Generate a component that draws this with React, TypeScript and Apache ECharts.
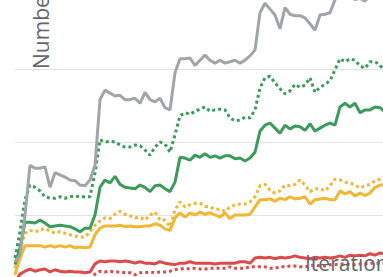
import React, { useEffect, useRef } from "react";
import * as echarts from "echarts";

// x index i ↔ iteration step; values in chart units (gridlines every 10)
const grayLine = [3.6, 4.5, 10.0, 16.8, 16.4, 16.4, 16.6, 13.8, 15.8, 15.5, 15.2, 14.8, 14.7, 14.1, 14.0, 14.8, 16.8, 25.8, 27.1, 26.7, 26.3, 26.4, 25.8, 25.8, 26.0, 25.3, 26.8, 25.8, 25.5, 26.0, 24.7, 24.4, 29.5, 31.4, 31.4, 31.5, 30.5, 31.2, 31.9, 31.2, 30.8, 31.2, 30.8, 31.0, 31.2, 30.8, 31.2, 31.8, 32.6, 37.7, 39.0, 38.2, 37.4, 35.5, 38.4, 37.5, 37.3, 37.3, 37.0, 36.2, 35.3, 37.4, 37.5, 37.7, 39.5, 40.1, 40.5, 40.0, 39.5, 39.7, 39.3, 40.1, 40.3, 39.9, 40.0];
const greenDotted = [4.1, 7.7, 12.1, 14.1, 13.8, 13.3, 12.5, 12.3, 12.3, 12.5, 12.3, 12.5, 12.6, 12.5, 12.5, 12.5, 15.8, 20.3, 20.0, 20.1, 20.0, 19.6, 19.3, 19.3, 19.6, 19.5, 18.9, 18.2, 19.3, 20.0, 19.7, 18.6, 21.0, 23.6, 24.0, 23.8, 24.2, 24.5, 24.8, 24.2, 24.4, 24.5, 24.4, 23.3, 22.9, 23.0, 23.4, 23.3, 24.4, 27.4, 28.8, 29.0, 28.1, 27.3, 26.6, 27.0, 27.9, 27.5, 27.8, 28.8, 26.8, 27.5, 27.9, 28.4, 29.9, 31.4, 31.0, 31.4, 31.2, 30.4, 30.1, 31.0, 31.0, 30.5, 29.6];
const greenSolid = [3.2, 5.5, 9.0, 9.0, 8.9, 9.3, 8.9, 8.4, 8.5, 8.6, 8.5, 8.4, 8.1, 7.7, 8.2, 8.2, 10.0, 13.8, 14.8, 14.4, 15.3, 14.2, 13.8, 13.7, 13.6, 14.1, 13.8, 13.2, 14.0, 14.1, 13.6, 13.2, 14.5, 17.9, 17.8, 17.5, 18.2, 17.9, 18.4, 17.9, 18.1, 17.8, 18.1, 18.1, 17.7, 17.8, 17.4, 17.8, 18.6, 21.5, 22.3, 22.6, 21.9, 21.2, 22.3, 21.8, 22.2, 22.1, 21.6, 22.5, 21.5, 21.9, 22.3, 22.6, 22.3, 24.8, 25.3, 24.8, 25.3, 24.0, 24.4, 24.4, 24.8, 24.7, 24.1];
const yellowDotted = [2.7, 5.2, 7.5, 7.9, 7.7, 7.9, 8.2, 7.8, 7.5, 7.7, 7.5, 7.3, 7.1, 7.0, 7.0, 7.7, 8.6, 9.2, 9.6, 9.5, 10.1, 10.5, 10.1, 9.9, 9.6, 9.7, 9.3, 10.0, 10.4, 9.3, 9.3, 8.4, 10.7, 11.8, 11.1, 11.4, 11.6, 11.6, 11.2, 11.1, 10.8, 10.8, 10.5, 11.1, 11.4, 11.5, 11.5, 11.8, 12.5, 14.0, 14.2, 13.4, 13.0, 13.3, 14.1, 14.0, 14.2, 14.8, 14.1, 13.2, 13.6, 13.6, 13.3, 14.0, 14.9, 14.8, 14.5, 14.4, 14.1, 13.7, 14.0, 14.2, 14.7, 14.9, 15.3];
const yellowSolid = [1.8, 4.1, 5.8, 5.8, 5.8, 5.8, 5.6, 5.8, 5.6, 5.8, 5.6, 5.8, 5.5, 5.6, 5.5, 5.6, 7.3, 8.2, 8.5, 8.5, 8.5, 8.6, 8.4, 8.5, 8.4, 8.4, 8.5, 8.5, 8.8, 8.6, 8.1, 7.9, 9.6, 10.3, 9.7, 10.3, 10.0, 10.4, 10.1, 10.3, 10.0, 9.7, 10.3, 9.5, 10.0, 10.0, 10.0, 10.1, 11.1, 12.1, 12.1, 12.2, 11.9, 12.3, 12.1, 12.5, 12.2, 12.3, 12.5, 11.5, 12.1, 12.2, 12.3, 12.1, 12.1, 13.3, 12.9, 13.2, 12.6, 13.0, 12.7, 13.0, 13.8, 14.1, 14.1];
const redSolid = [0.8, 1.9, 2.3, 2.6, 2.3, 2.5, 2.6, 2.2, 2.5, 2.3, 2.2, 2.3, 2.2, 2.2, 2.1, 2.2, 3.3, 3.7, 3.6, 3.7, 3.7, 3.6, 3.7, 3.6, 3.4, 3.6, 3.4, 3.4, 3.3, 3.6, 3.4, 3.3, 3.2, 3.4, 3.4, 3.6, 3.4, 3.4, 3.4, 3.4, 3.3, 3.4, 3.4, 3.4, 3.4, 3.6, 3.6, 3.4, 4.1, 4.2, 4.1, 4.2, 4.0, 4.2, 4.1, 4.2, 4.4, 4.2, 4.1, 4.0, 4.2, 4.1, 4.2, 4.1, 4.2, 4.4, 4.2, 4.5, 4.4, 4.5, 4.4, 4.7, 4.5, 4.8, 4.7];
const redDotted = [0.0, 0.5, 0.8, 1.0, 0.9, 1.0, 1.1, 0.9, 1.0, 0.9, 1.0, 1.0, 0.9, 1.0, 0.9, 1.0, 1.9, 2.3, 2.2, 2.3, 2.2, 2.2, 2.1, 2.1, 1.8, 2.1, 2.1, 2.2, 2.1, 2.2, 2.2, 2.3, 2.5, 2.6, 2.7, 2.6, 2.7, 2.6, 2.6, 2.7, 2.7, 2.7, 2.7, 2.9, 2.7, 2.7, 2.7, 2.9, 2.9, 2.9, 2.9, 2.7, 2.7, 2.9, 2.9, 3.0, 3.0, 2.9, 2.9, 3.0, 3.2, 3.0, 3.0, 3.2, 3.2, 3.3, 3.3, 3.2, 3.2, 3.3, 3.3, 3.4, 3.4, 3.4, 3.4];

const yAxisName = "Number";
const xAxisName = "Iteration";

const GRAY = "#a0a5aa";
const GREEN = "#3a9b5a";
const YELLOW = "#f2b630";
const RED = "#de4a4a";

export default function App() {
  const ref = useRef<HTMLDivElement>(null);

  useEffect(() => {
    if (!ref.current) return;
    const chart = echarts.init(ref.current, undefined, { renderer: "svg" });
    const mk = (name: string, data: number[], color: string, dotted: boolean, z: number) => ({
      name,
      type: "line",
      data: data.map((v, i) => [i, v]),
      showSymbol: false,
      symbol: "none",
      z,
      lineStyle: {
        width: 3,
        color,
        type: dotted ? [3, 3] : "solid",
        cap: "butt",
      },
    });
    chart.setOption({
      animation: false,
      grid: { left: 15, right: 25, top: 13, bottom: 22 },
      xAxis: {
        type: "value",
        min: 0,
        max: 80,
        axisLine: { show: false },
        axisTick: { show: false },
        axisLabel: { show: false },
        splitLine: { show: false },
      },
      yAxis: {
        type: "value",
        min: 0,
        max: 50,
        interval: 10,
        axisLine: { show: false },
        axisTick: { show: false },
        axisLabel: { show: false },
        splitLine: { show: true, lineStyle: { color: "#e2e2e2", width: 1 } },
      },
      graphic: [
        {
          type: "text",
          x: 41,
          y: 159,
          rotation: Math.PI / 2,
          style: {
            text: yAxisName,
            fontSize: 21,
            fontFamily: "Open Sans",
            fill: "#63676b",
            align: "left",
            verticalAlign: "middle",
          },
        },
        {
          type: "text",
          x: 305,
          y: 342,
          z: 100,
          style: {
            text: xAxisName,
            fontSize: 21,
            fontFamily: "Open Sans",
            fill: "#63676b",
            align: "left",
            verticalAlign: "top",
          },
        },
      ],
      series: [
        mk("red dotted", redDotted, RED, true, 2),
        mk("red", redSolid, RED, false, 3),
        mk("yellow dotted", yellowDotted, YELLOW, true, 4),
        mk("yellow", yellowSolid, YELLOW, false, 5),
        mk("green dotted", greenDotted, GREEN, true, 6),
        mk("green", greenSolid, GREEN, false, 7),
        mk("gray", grayLine, GRAY, false, 8),
      ],
    });
    return () => chart.dispose();
  }, []);

  return (
    <div style={{ position: "fixed", left: 0, top: 0, width: 383, height: 277, overflow: "hidden", background: "#fff" }}>
      <div ref={ref} style={{ position: "absolute", left: 0, top: -90, width: 440, height: 400 }} />
    </div>
  );
}
